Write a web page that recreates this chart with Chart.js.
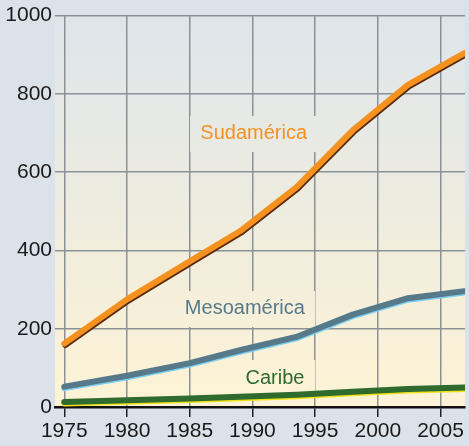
<!DOCTYPE html>
<html>
<head>
<meta charset="UTF-8">
<title>Sudamérica, Mesoamérica y Caribe</title>
<script src="https://cdn.jsdelivr.net/npm/chart.js@4.4.1/dist/chart.umd.min.js"></script>
<style>
  html, body { margin: 0; padding: 0; background: #dbe2ea; }
  #wrap { width: 469px; height: 446px; }
</style>
</head>
<body>
<div id="wrap"><canvas id="chart"></canvas></div>
<script>
// Valores por año (eje x lineal)
const years = [1975, 1980, 1985, 1989, 1993.5, 1998, 2002.4, 2006.9];
const sudamerica = [162, 275, 372, 449, 561, 707, 823, 904];
const mesoamerica = [52, 80, 112, 145, 179, 236, 278, 296];
const caribe = [13, 17, 22, 26, 31, 39, 46, 50];

const xTicks = [1975, 1980, 1985, 1990, 1995, 2000, 2005];
const yTicks = [0, 200, 400, 600, 800, 1000];

// Rótulos de las series, posicionados en coordenadas de datos
const seriesLabels = [
  { text: 'Sudamérica', x: 1990.1, y: 698, color: '#f39223' },
  { text: 'Mesoamérica', x: 1989.4, y: 251, color: '#567a8b' },
  { text: 'Caribe', x: 1991.8, y: 74, color: '#2f6a2f' }
];

const toPoints = (vals) => vals.map((v, i) => ({ x: years[i], y: v }));
const tickFont = { family: '"Liberation Sans Narrow", "Arial Narrow", "Liberation Sans", sans-serif', size: 21 };

// Degradado del área de trazado (se usa también bajo los rótulos)
function fillPanel(ctx, a) {
  const g = ctx.createLinearGradient(0, a.top, 0, a.bottom);
  g.addColorStop(0, '#dee5eb');
  g.addColorStop(0.5, '#eeecdf');
  g.addColorStop(1, '#fef3d5');
  ctx.fillStyle = g;
  ctx.fillRect(a.left, a.top, a.right - a.left, a.bottom - a.top);
}

const backgroundPlugin = {
  id: 'background',
  beforeDraw(chart) {
    const { ctx, chartArea } = chart;
    ctx.save();
    ctx.fillStyle = '#dbe2ea';
    ctx.fillRect(0, 0, chart.width, chart.height);
    fillPanel(ctx, chartArea);
    ctx.restore();
  }
};

// Nombres de series sobre un recuadro que tapa la cuadrícula
const labelsPlugin = {
  id: 'seriesLabels',
  beforeDatasetsDraw(chart) {
    const { ctx, scales, chartArea } = chart;
    ctx.save();
    ctx.font = '20px "Liberation Sans", Arial, sans-serif';
    ctx.textAlign = 'center';
    ctx.textBaseline = 'middle';
    seriesLabels.forEach(l => {
      const px = scales.x.getPixelForValue(l.x);
      const py = scales.y.getPixelForValue(l.y);
      const w = ctx.measureText(l.text).width + 20;
      ctx.save();
      ctx.beginPath();
      ctx.rect(Math.round(px - w / 2), Math.round(py - 18), Math.round(w), 36);
      ctx.clip();
      fillPanel(ctx, chartArea);
      ctx.restore();
      ctx.fillStyle = l.color;
      ctx.fillText(l.text, px, py);
    });
    ctx.restore();
  }
};

// Sombra desplazada bajo cada línea
const shadowPlugin = {
  id: 'lineShadow',
  beforeDatasetDraw(chart, args) {
    const ds = chart.data.datasets[args.index];
    const ctx = chart.ctx;
    ctx.save();
    ctx.shadowColor = ds.shadowColor;
    ctx.shadowOffsetX = ds.shadowX;
    ctx.shadowOffsetY = ds.shadowY;
    ctx.shadowBlur = 0;
  },
  afterDatasetDraw(chart) {
    chart.ctx.restore();
  }
};

const lineStyle = {
  borderWidth: 6,
  pointRadius: 0,
  tension: 0,
  borderCapStyle: 'round',
  borderJoinStyle: 'round',
  fill: false
};

new Chart(document.getElementById('chart'), {
  type: 'line',
  data: {
    datasets: [
      { ...lineStyle, label: 'Sudamérica', data: toPoints(sudamerica),
        borderColor: '#f5921f', shadowColor: '#5c2a0c', shadowX: 1, shadowY: 1.5 },
      { ...lineStyle, label: 'Mesoamérica', data: toPoints(mesoamerica),
        borderColor: '#577a8b', shadowColor: '#7ccff0', shadowX: 0, shadowY: 1.5 },
      { ...lineStyle, label: 'Caribe', data: toPoints(caribe),
        borderColor: '#2f6a2f', shadowColor: '#eee21a', shadowX: 0, shadowY: 1.5 }
    ]
  },
  options: {
    responsive: true,
    maintainAspectRatio: false,
    animation: false,
    layout: { padding: { top: 13, right: 4, left: 0, bottom: 0 } },
    plugins: {
      legend: { display: false },
      tooltip: { enabled: false }
    },
    scales: {
      x: {
        type: 'linear',
        min: 1974.26,
        max: 2006.95,
        afterBuildTicks: (scale) => { scale.ticks = xTicks.map(v => ({ value: v })); },
        afterFit: (scale) => { scale.height = 39; },
        grid: { color: '#8a9298', lineWidth: 1.5, tickColor: '#222', tickLength: 10, drawTicks: true },
        border: { display: true, color: '#111', width: 2.5 },
        ticks: {
          color: '#1a1a1a',
          padding: 2,
          maxRotation: 0,
          font: tickFont,
          callback: (v) => String(v)
        }
      },
      y: {
        min: 0,
        max: 1000,
        afterBuildTicks: (scale) => { scale.ticks = yTicks.map(v => ({ value: v })); },
        afterFit: (scale) => { scale.width = 55; },
        grid: { color: '#8a9298', lineWidth: 1.5, drawTicks: false },
        border: { display: false },
        ticks: {
          color: '#1a1a1a',
          padding: 3,
          font: tickFont,
          callback: (v) => String(v)
        }
      }
    }
  },
  plugins: [backgroundPlugin, labelsPlugin, shadowPlugin]
});
</script>
</body>
</html>
